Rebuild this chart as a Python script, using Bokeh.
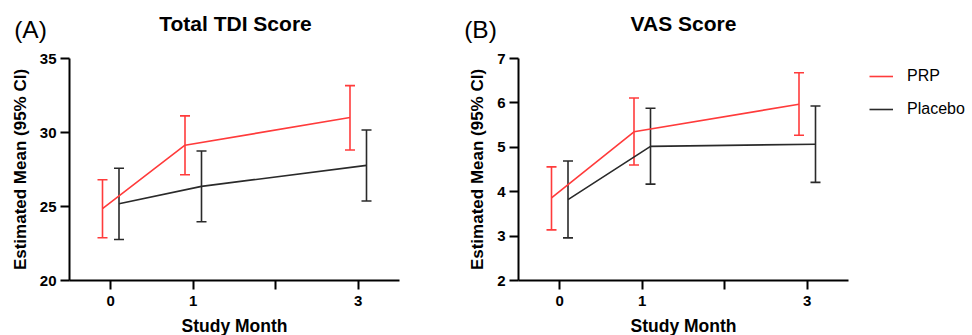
from bokeh.plotting import figure
from bokeh.models import (Range1d, FixedTicker, Whisker, ColumnDataSource, Label,
                          Legend, LegendItem, TeeHead)
from bokeh.layouts import row, column
from bokeh.embed import file_html
from bokeh.resources import INLINE

# ---- data ----
months = [0, 1, 3]
month_ticks = [0, 1, 2, 3]
month_labels = {0: "0", 1: "1", 2: "", 3: "3"}

tdi_prp_mean = [24.85, 29.14, 31.01]
tdi_prp_low = [22.89, 27.15, 28.82]
tdi_prp_high = [26.81, 31.12, 33.17]
tdi_pla_mean = [25.19, 26.36, 27.78]
tdi_pla_low = [22.77, 23.97, 25.37]
tdi_pla_high = [27.58, 28.75, 30.17]

vas_prp_mean = [3.86, 5.35, 5.97]
vas_prp_low = [3.14, 4.60, 5.27]
vas_prp_high = [4.56, 6.11, 6.68]
vas_pla_mean = [3.82, 5.02, 5.07]
vas_pla_low = [2.96, 4.17, 4.21]
vas_pla_high = [4.69, 5.88, 5.93]

tdi_yticks = [20, 25, 30, 35]
vas_yticks = [2, 3, 4, 5, 6, 7]

series_names = ["PRP", "Placebo"]
panel_titles = ["Total TDI Score", "VAS Score"]
panel_letters = ["(A)", "(B)"]
x_title = "Study Month"
y_title = "Estimated Mean (95% CI)"

# ---- style / layout ----
RED = "#ff3b3b"
BLACK = "#2a2a2a"
FONT = "Liberation Sans"
OFFSET = 0.1
FRAME_W = 330
FRAME_H = 222
HEADER_H = 46
TOP = 12
BOTTOM = 34
HEIGHT = TOP + FRAME_H + BOTTOM
FOOTER_H = 335 - HEADER_H - HEIGHT
XMIN, XMAX = -0.5, 3.5
TOTAL_W = 970
A_W = 450
A_LEFT = 69
B_LEFT = 68
A_CENTER = A_LEFT + FRAME_W / 2
B_CENTER = A_W + B_LEFT + FRAME_W / 2


def text_strip(height):
    s = figure(width=TOTAL_W, height=height, output_backend="svg", toolbar_location=None,
               x_range=Range1d(0, TOTAL_W), y_range=Range1d(height, 0),
               x_axis_type=None, y_axis_type=None,
               min_border_left=0, min_border_right=0, min_border_top=0, min_border_bottom=0)
    s.outline_line_color = None
    s.grid.visible = False
    return s


# header with panel letters and titles
header = text_strip(HEADER_H)
for tx, lx, title, letter in ((A_CENTER + 1, 30, panel_titles[0], panel_letters[0]),
                              (B_CENTER, 480, panel_titles[1], panel_letters[1])):
    header.add_layout(Label(x=tx, y=23, text=title, text_font=FONT,
                            text_font_style="bold", text_font_size="21px",
                            text_align="center", text_baseline="middle", text_color="black"))
    header.add_layout(Label(x=lx, y=29, text=letter, text_font=FONT,
                            text_font_size="24.5px", text_align="center",
                            text_baseline="middle", text_color="black"))

# footer with the x axis titles
footer = text_strip(FOOTER_H)
for cx in (A_CENTER, B_CENTER):
    footer.add_layout(Label(x=cx, y=11, text=x_title, text_font=FONT,
                            text_font_style="bold", text_font_size="17.5px",
                            text_align="center", text_baseline="middle", text_color="black"))


def make_panel(ymin, ymax, yticks, prp, pla, width, left, legend=False):
    frame_w = FRAME_W if not legend else width - left
    xmax = XMIN + frame_w / FRAME_W * (XMAX - XMIN)
    p = figure(width=width, height=HEIGHT, output_backend="svg", toolbar_location=None,
               x_range=Range1d(XMIN, xmax), y_range=Range1d(ymin, ymax),
               min_border_left=left, min_border_right=width - left - frame_w,
               min_border_top=TOP, min_border_bottom=BOTTOM)
    p.outline_line_color = None
    p.grid.visible = False

    for ax in (p.xaxis[0], p.yaxis[0]):
        ax.axis_line_width = 2
        ax.axis_line_color = "black"
        ax.major_tick_line_width = 2
        ax.major_tick_line_color = "black"
        ax.major_tick_out = 9
        ax.major_tick_in = 0
        ax.minor_tick_line_color = None
        ax.major_label_text_font = FONT
        ax.major_label_text_font_style = "bold"
        ax.major_label_text_font_size = "15px"
        ax.major_label_text_color = "black"

    p.xaxis.bounds = (XMIN, XMAX)
    p.xaxis.ticker = FixedTicker(ticks=month_ticks)
    p.xaxis.major_label_overrides = month_labels
    p.xaxis.major_label_standoff = 6

    p.yaxis.ticker = FixedTicker(ticks=yticks)
    p.yaxis.major_label_standoff = 4
    p.yaxis.axis_label = y_title
    p.yaxis.axis_label_text_font = FONT
    p.yaxis.axis_label_text_font_style = "bold"
    p.yaxis.axis_label_text_font_size = "17px"
    p.yaxis.axis_label_text_color = "black"
    p.yaxis.axis_label_standoff = 7

    renderers = []
    for vals, col, off in ((prp, RED, -OFFSET), (pla, BLACK, OFFSET)):
        mean, low, high = vals
        xs = [m + off for m in months]
        src = ColumnDataSource(dict(x=xs, y=mean, lo=low, hi=high))
        r = p.line("x", "y", source=src, line_color=col, line_width=1.6)
        renderers.append(r)
        w = Whisker(source=src, base="x", lower="lo", upper="hi",
                    line_color=col, line_width=1.6,
                    upper_head=TeeHead(size=10, line_color=col, line_width=1.6),
                    lower_head=TeeHead(size=10, line_color=col, line_width=1.6))
        p.add_layout(w)

    if legend:
        lg = Legend(items=[LegendItem(label=series_names[0], renderers=[renderers[0]]),
                           LegendItem(label=series_names[1], renderers=[renderers[1]])],
                    location=(FRAME_W + 21, FRAME_H - 8 - 53),
                    glyph_width=24, glyph_height=20, label_height=20,
                    label_standoff=14, spacing=13, padding=0, margin=0,
                    border_line_color=None, background_fill_alpha=0,
                    label_text_font=FONT, label_text_font_size="16px",
                    label_text_color="black")
        p.add_layout(lg)
    return p


pA = make_panel(20, 35, tdi_yticks,
                (tdi_prp_mean, tdi_prp_low, tdi_prp_high),
                (tdi_pla_mean, tdi_pla_low, tdi_pla_high),
                width=A_W, left=A_LEFT)
pB = make_panel(2, 7, vas_yticks,
                (vas_prp_mean, vas_prp_low, vas_prp_high),
                (vas_pla_mean, vas_pla_low, vas_pla_high),
                width=TOTAL_W - A_W, left=B_LEFT, legend=True)

layout = column(header, row(pA, pB), footer)
open("out.html", "w").write(file_html(layout, INLINE))
